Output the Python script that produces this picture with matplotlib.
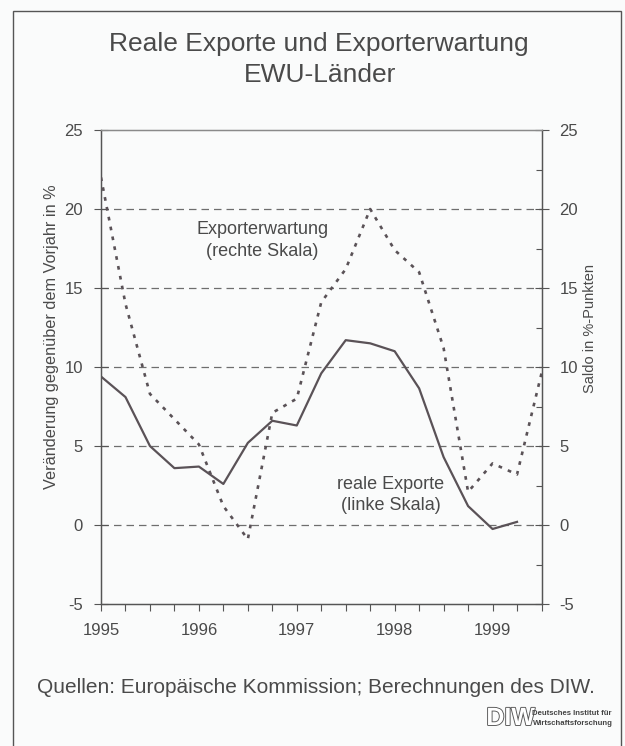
import numpy as np
import matplotlib.pyplot as plt
import matplotlib.patches as patches
import matplotlib.patheffects as pe

plt.rcParams['font.family'] = ['Liberation Sans', 'DejaVu Sans']

# quarterly data, 1995 Q1 ...
quarters = 1995 + np.arange(19) / 4
exporte = [9.4, 8.1, 5.0, 3.6, 3.7, 2.6, 5.2, 6.6, 6.3, 9.6, 11.7, 11.5,
           11.0, 8.65, 4.3, 1.2, -0.25, 0.2]
erwartung = [22.0, 14.0, 8.3, 6.7, 5.1, 1.2, -0.9, 7.1, 8.0, 14.1, 16.2, 20.0,
             17.4, 16.0, 11.2, 2.1, 3.9, 3.2, 9.6]
years = [1995, 1996, 1997, 1998, 1999]
yticks = [-5, 0, 5, 10, 15, 20, 25]

bg = '#fafbfb'
txt = '#4a4a4a'
linec = '#5a5257'

fig = plt.figure(figsize=(6.25, 7.46), dpi=100, facecolor=bg)
ax = fig.add_axes([0.1616, 0.1903, 0.7048, 0.6354], facecolor=bg)
ax2 = ax.twinx()

ax.set_xlim(1995, 1999.5)
ax.set_ylim(-5, 25)
ax2.set_ylim(-5, 25)

for y in [0, 5, 10, 15, 20]:
    ax.axhline(y, color='#6e6e6e', lw=0.9, ls=(0, (6, 4)), zorder=1)

ax.plot(quarters[:len(exporte)], exporte, color=linec, lw=1.6, zorder=3)
ax2.plot(quarters, erwartung, color=linec, lw=1.9, ls=(0, (1.4, 2.4)), zorder=3)

ax.set_xticks(years)
ax.set_xticklabels([str(y) for y in years], fontsize=12, color=txt)
ax.set_xticks(quarters, minor=True)
ax.tick_params(axis='x', which='both', direction='out', length=5, width=0.8,
               color='#555555', pad=9)

ax.set_yticks(yticks)
ax.set_yticklabels([str(v) for v in yticks], fontsize=12, color=txt)
ax.tick_params(axis='y', direction='inout', length=10, width=0.8, color='#555555', pad=8)
ax2.set_yticks(yticks)
ax2.set_yticklabels([str(v) for v in yticks], fontsize=12, color=txt)
ax2.set_yticks(np.arange(-2.5, 25, 5), minor=True)
ax2.tick_params(axis='y', which='major', direction='inout', length=10, width=0.8,
                color='#555555', pad=8)
ax2.tick_params(axis='y', which='minor', direction='in', length=4, width=0.8,
                color='#555555')

for a in (ax, ax2):
    for s in a.spines.values():
        s.set_color('#555555')
        s.set_linewidth(0.9)
    a.spines['top'].set_color('#8a8a8a')

ax.text(1996.65, 18.0, 'Exporterwartung\n(rechte Skala)', ha='center', va='center',
        fontsize=13, color=txt, linespacing=1.35, zorder=4)
ax.text(1997.96, 1.9, 'reale Exporte\n(linke Skala)', ha='center', va='center',
        fontsize=13, color=txt, linespacing=1.35, zorder=4)

fig.text(0.083, 0.549, 'Veränderung gegenüber dem Vorjahr in %', rotation=90,
         ha='center', va='center', fontsize=11.7, color=txt)
fig.text(0.944, 0.56, 'Saldo in %-Punkten', rotation=90,
         ha='center', va='center', fontsize=10.5, color=txt)

fig.text(0.51, 0.941, 'Reale Exporte und Exporterwartung', ha='center', va='center',
         fontsize=19, color=txt)
fig.text(0.512, 0.8995, 'EWU-Länder', ha='center', va='center', fontsize=19, color=txt)

fig.text(0.506, 0.079, 'Quellen: Europäische Kommission; Berechnungen des DIW.',
         ha='center', va='center', fontsize=15, color=txt)

# DIW logo
fig.text(0.817, 0.0375, 'DIW', ha='center', va='center', fontsize=18, fontweight='bold',
         color='white', path_effects=[pe.withStroke(linewidth=1.3, foreground='#555555')])
fig.text(0.852, 0.044, 'Deutsches Institut für', ha='left', va='center', fontsize=5.6,
         fontweight='bold', color='#444444')
fig.text(0.852, 0.030, 'Wirtschaftsforschung', ha='left', va='center', fontsize=5.6,
         fontweight='bold', color='#444444')

# outer frame
frame = patches.Rectangle((0.0208, -0.02), 0.9728, 1.0053, transform=fig.transFigure,
                          fill=False, edgecolor='#555555', lw=1.0)
fig.patches.append(frame)

fig.savefig('out.png', dpi=100, facecolor=bg)
